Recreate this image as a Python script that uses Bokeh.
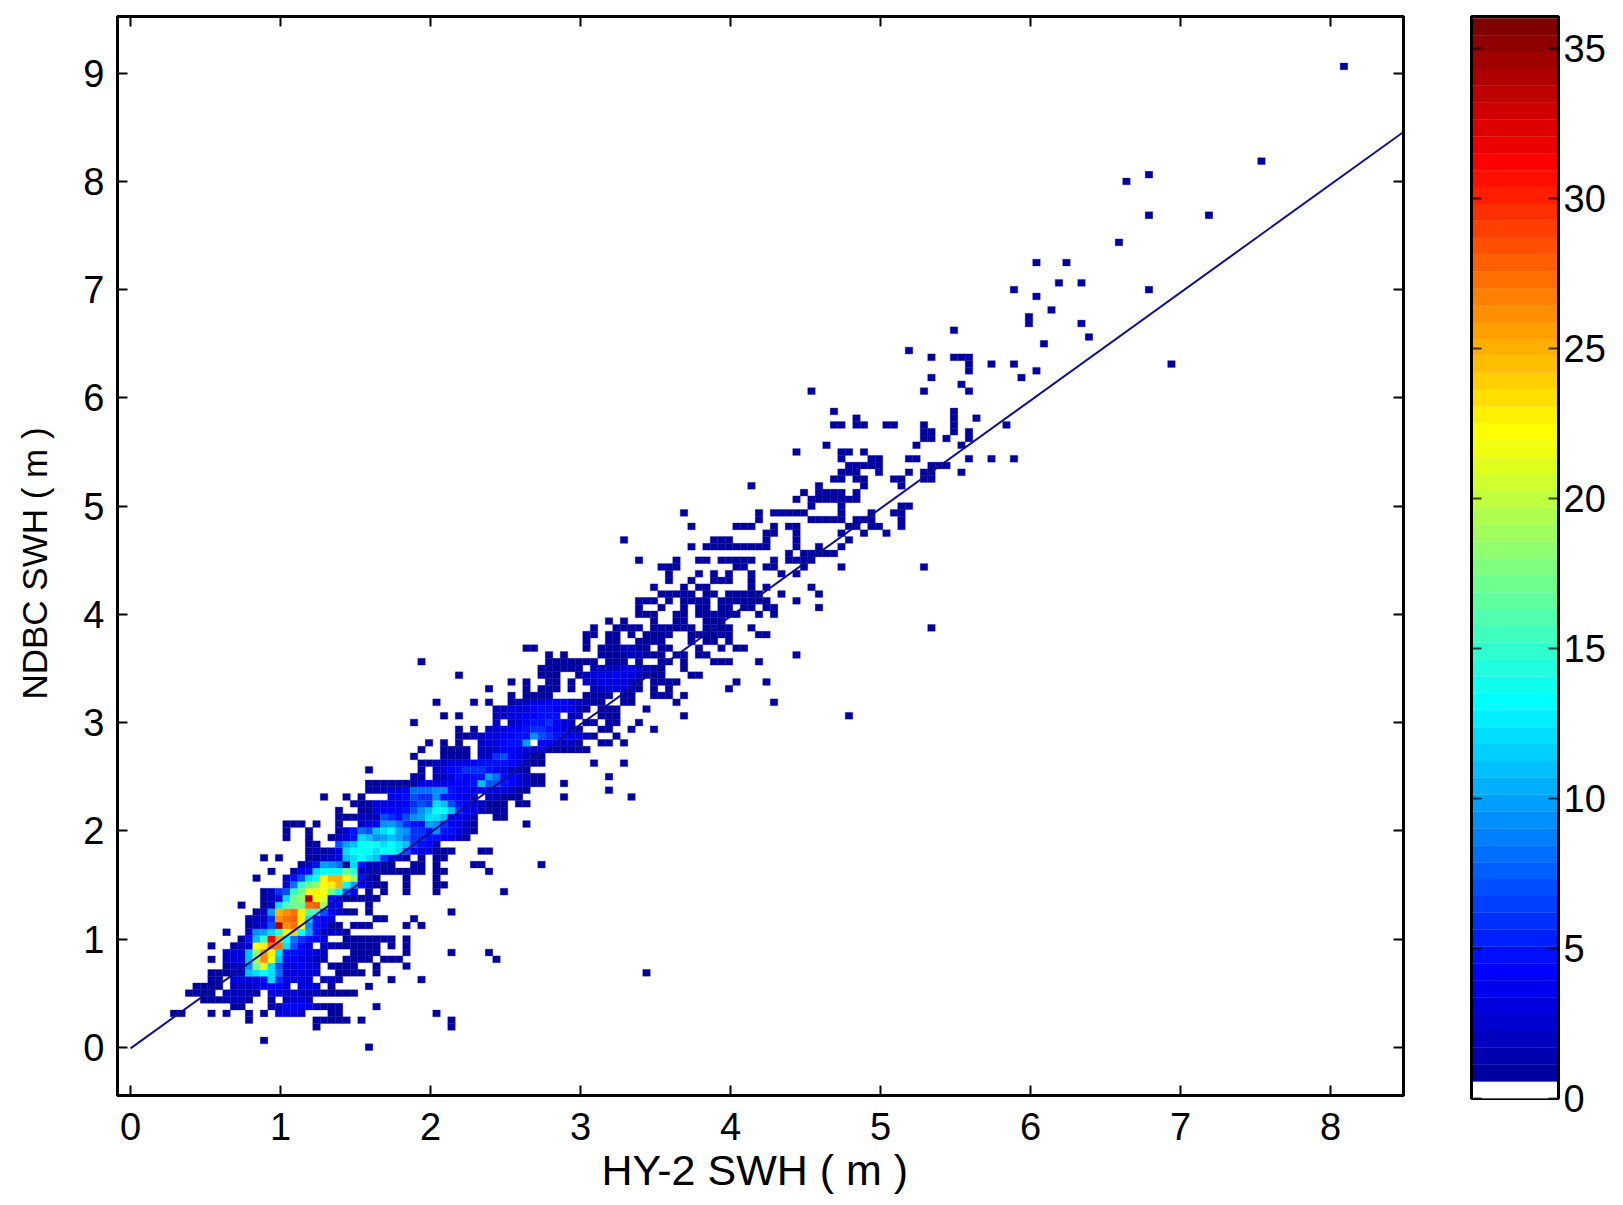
import numpy as np
from bokeh.core.properties import value
from bokeh.embed import file_html
from bokeh.layouts import row
from bokeh.models import ColumnDataSource, FixedTicker, LinearAxis, LinearColorMapper, Range1d, Title
from bokeh.plotting import figure
from bokeh.resources import INLINE
from bokeh.transform import transform

x_ticks = [0, 1, 2, 3, 4, 5, 6, 7, 8]
y_ticks = [0, 1, 2, 3, 4, 5, 6, 7, 8, 9]
bar_ticks = [0, 5, 10, 15, 20, 25, 30, 35]

# histogram cells: (y bin, first x bin, counts in base 36, "." = empty)
cells_low = [
    (0, 32, "1"), (1, 18, "1"), (3, 25, "1"), (3, 43, "1"),
    (4, 16, "1"), (4, 25, "11111"), (4, 31, "1"), (4, 43, "1"),
    (5, 6, "11"), (5, 11, "1"), (5, 13, "1"), (5, 16, "1"), (5, 18, "1"), (5, 20, "3332"), (5, 27, "11"), (5, 41, "1"),
    (6, 14, "11"), (6, 19, "1244432111"), (6, 33, "1"),
    (7, 10, "1112221"), (7, 19, "1.2332"),
    (8, 8, "1111"), (8, 13, "22221"), (8, 19, "332322211111"),
    (9, 9, "1111"), (9, 14, "22233443"), (9, 23, "333"), (9, 27, "1"), (9, 32, "1"),
    (10, 11, "11"), (10, 14, "3333"), (10, 18, "5c6"), (10, 21, "3333"), (10, 26, "222"), (10, 35, "1"), (10, 39, "1"),
    (11, 11, "11122"), (11, 16, "bcdc8"), (11, 21, "33333"), (11, 28, "1111"), (11, 33, "1"), (11, 69, "1"),
    (12, 13, "122"), (12, 16, "9hlc7"), (12, 21, "33433"), (12, 27, "11"), (12, 29, "11"), (12, 33, "1"), (12, 37, "1"),
    (13, 11, "1"), (13, 13, "233"), (13, 16, "bjqmb"), (13, 21, "443322"), (13, 29, "11"), (13, 31, "11"), (13, 34, "111"), (13, 49, "1"),
    (14, 13, "233"), (14, 16, "biqnc"), (14, 21, "554332"), (14, 30, "111"), (14, 33, "1"), (14, 37, "1"), (14, 43, "1"), (14, 48, "1"),
    (15, 11, "1"), (15, 14, "123"), (15, 17, "mnrr"), (15, 21, "c7"), (15, 23, "43"), (15, 26, "22"), (15, 28, "111"), (15, 31, "111"), (15, 35, "1"), (15, 37, "1"),
    (16, 15, "15"), (16, 17, "bfvp"), (16, 21, "d8"), (16, 23, "6543"), (16, 29, "11"), (16, 31, "11111"), (16, 37, "1"),
    (17, 13, "1"), (17, 16, "29a"), (17, 19, "cfmoe"), (17, 24, "a5"), (17, 26, "2221"),
    (18, 16, "1237yqrm954"), (18, 27, "11"), (18, 30, "111"), (18, 37, "1"), (18, 39, "1"),
    (19, 16, "1226qrsnc543"), (19, 33, "11"), (19, 38, "1"),
    (20, 17, "12apqrngf7"), (20, 27, "4211"), (20, 32, "1"), (20, 43, "1"),
    (21, 15, "1"), (21, 18, "12cghhrsj43"), (21, 32, "1"),
    (22, 18, "123chiyml53"), (22, 29, "11111"),
    (23, 18, "1267fhmnmhd74"), (23, 32, "1"), (23, 34, "1"), (23, 37, "1"), (23, 41, "1"), (23, 50, "1"),
    (24, 21, "38fhimnpda4211"), (24, 37, "1"), (24, 41, "1"), (24, 42, "1"),
    (25, 17, "1"), (25, 21, "257cdmppmj521"), (25, 37, "1"), (25, 41, "1"),
    (26, 19, "1"), (26, 22, "145cdedhf222111111"), (26, 41, "11"), (26, 48, "1"),
    (27, 23, "125a98"), (27, 29, "1c52221"), (27, 38, "11"), (27, 41, "1"), (27, 46, "11"), (27, 55, "1"),
    (28, 18, "1"), (28, 20, "1"), (28, 24, "11223bcdcb643"), (28, 37, "1"), (28, 39, "1"), (28, 41, "11"),
    (29, 24, "12123cdedcdec7433"), (29, 41, "111"), (29, 47, "11"),
    (30, 24, "11"), (30, 28, "7abdedcdcb654"), (30, 41, "2"),
    (31, 21, "1"), (31, 24, "1"), (31, 27, "1235cb9aba8665"), (31, 41, "54321"),
    (32, 21, "1"), (32, 24, "1"), (32, 28, "13587bcda9665"), (32, 41, "955321"),
    (33, 21, "111"), (33, 25, "1"), (33, 28, "1"), (33, 31, "2349a8655a964321"), (33, 53, "1"),
    (34, 28, "111"), (34, 31, "222765"), (34, 37, "79acc"), (34, 42, "b4432"), (34, 49, "11"),
    (35, 28, "1"), (35, 31, "113444579bdeb6432111"),
    (36, 30, "11133334676cb75432111"), (36, 52, "11"),
    (37, 26, "1"), (37, 29, "1"), (37, 31, "1"), (37, 35, "345766955432"), (37, 48, "22111"), (37, 58, "1"), (37, 67, "1"),
    (38, 32, "1123348889954433433211"), (38, 64, "1"),
    (39, 32, "1111111"), (39, 39, "33334445b77543211"), (39, 58, "1"),
    (40, 38, "11"), (40, 41, "2235455a8543211"), (40, 64, "1"),
    (41, 32, "1"), (41, 39, "1"), (41, 41, "2345666543221"),
    (42, 39, "11223334555543211"), (42, 62, "1"), (42, 66, "1"),
    (43, 38, "1"), (43, 42, "1111"), (43, 47, "226743211"),
    (44, 39, "1"), (44, 42, "1111"), (44, 47, "223443323211111"),
    (45, 40, "1"), (45, 42, "1"), (45, 44, "1"), (45, 47, "233455a"), (45, 55, "443221"), (45, 63, "11"), (45, 66, "1"),
    (46, 44, "1122334455976544321"), (46, 65, "1"),
    (47, 44, "1"), (47, 46, "1"), (47, 48, "2334456654321"), (47, 63, "11"), (47, 67, "1"), (47, 70, "1"),
    (48, 38, "1"), (48, 49, "2.234556432"), (48, 61, "11.11"), (48, 68, "1"),
    (49, 42, "1"), (49, 44, "1"), (49, 49, "223344555"), (49, 59, "22"), (49, 63, "111"), (49, 74, "1"), (49, 96, "1"),
    (50, 49, "2233345544321"), (50, 63, "111"), (50, 69, "1"),
]

cells_mid = [
    (51, 41, "1"), (51, 46, "1"), (51, 48, "1"), (51, 51, "1223344432211"), (51, 66, "11"), (51, 73, "1"), (51, 86, "1"),
    (52, 51, "1"), (52, 53, "111"), (52, 56, "1"), (52, 61, "1111"), (52, 66, "11"), (52, 70, "1"), (52, 71, "11"), (52, 74, "1"),
    (53, 48, "1"), (53, 53, "1"), (53, 55, "111"), (53, 59, "1"), (53, 62, "2233321"), (53, 70, "1"), (53, 72, "1"), (53, 80, "1"),
    (54, 51, "1"), (54, 53, "1"), (54, 56, "11"), (54, 59, "1"), (54, 61, "22333321"), (54, 70, "1111"), (54, 81, "1"), (54, 85, "1"),
    (55, 44, "1"), (55, 55, "111"), (55, 60, "123334332"), (55, 69, "111"), (55, 75, "11"),
    (56, 55, "1111"), (56, 59, "11"), (56, 62, "222233221"), (56, 71, "1"), (56, 74, "1"),
    (57, 39, "1"), (57, 56, "1111111"), (57, 64, "111"), (57, 68, "1"), (57, 71, "11"), (57, 74, "1"), (57, 78, "111"), (57, 84, "1"),
    (58, 56, "1"), (58, 58, "1"), (58, 63, "11112211"), (58, 71, "1"), (58, 73, "11"), (58, 76, "11"), (58, 89, "1"),
    (59, 53, "11"), (59, 61, "1"), (59, 63, "1112211"), (59, 71, "11"), (59, 76, "1"), (59, 79, "1"), (59, 81, "11"),
    (60, 61, "1"), (60, 64, "11"), (60, 68, "111"), (60, 71, "1"), (60, 75, "1"), (60, 77, "11"), (60, 80, "1"),
    (61, 61, "11"), (61, 64, "11"), (61, 67, "1"), (61, 69, "1111"), (61, 75, "111111"), (61, 84, "11"),
    (62, 62, "1"), (62, 65, "1111"), (62, 70, "111111"), (62, 77, "1111"), (62, 83, "1"), (62, 107, "1"),
    (63, 64, "1"), (63, 66, "1"), (63, 70, "1"), (63, 73, "11"), (63, 77, "111"),
    (64, 68, "111"), (64, 73, "11"), (64, 76, "111"), (64, 79, "111"), (64, 84, "1"), (64, 86, "1"),
    (65, 68, "1"), (65, 71, "1"), (65, 74, "1"), (65, 76, "11"), (65, 79, "11"), (65, 82, "11"), (65, 85, "11"), (65, 92, "1"),
    (66, 68, "111"), (66, 72, "1"), (66, 74, "1111"), (66, 79, "111"), (66, 82, "111"), (66, 85, "1"), (66, 89, "1"),
    (67, 71, "11111"), (67, 77, "11"), (67, 80, "11111"), (67, 87, "1"), (67, 92, "1"),
    (68, 70, "1"), (68, 74, "1"), (68, 76, "11"), (68, 83, "1"), (68, 85, "1"), (68, 91, "1"),
    (69, 72, "1"), (69, 75, "1"), (69, 78, "111"), (69, 83, "1"),
    (70, 72, "1"), (70, 76, "1"), (70, 78, "1"), (70, 80, "1"), (70, 83, "1"), (70, 87, "1"), (70, 89, "1"),
    (71, 71, "111"), (71, 81, "11"), (71, 85, "11"), (71, 90, "1"), (71, 95, "1"), (71, 106, "1"),
    (72, 68, "1"), (72, 73, "1"), (72, 76, "11"), (72, 79, "11111"), (72, 86, "1"), (72, 88, "1111"),
    (73, 88, "1"), (73, 90, "11111"),
    (74, 75, "1"), (74, 77, "11111"), (74, 82, "111"), (74, 85, "1"), (74, 89, "1"), (74, 92, "1"), (74, 95, "1"),
    (75, 66, "1"), (75, 78, "111"), (75, 85, "1"), (75, 89, "1"), (75, 96, "1"),
    (76, 85, "11"), (76, 89, "1"), (76, 95, "1"), (76, 98, "1"), (76, 101, "1"),
    (77, 75, "1"), (77, 81, "111"), (77, 86, "1"), (77, 88, "11"), (77, 96, "11"), (77, 99, "11"), (77, 103, "1"),
    (78, 84, "1"), (78, 91, "11111"), (78, 97, "111"), (78, 103, "1"),
    (79, 74, "1"), (79, 84, "1"), (79, 86, "11111"), (79, 95, "1"), (79, 99, "1"), (79, 102, "11"),
]

cells_high = [
    (80, 91, "1"), (80, 95, "1"), (80, 103, "11"),
    (81, 89, "1"), (81, 91, "1111111"),
    (82, 90, "1"), (82, 92, "1111"), (82, 97, "1"),
    (83, 83, "1"), (83, 92, "1"), (83, 98, "1"), (83, 103, "1"),
    (84, 94, "11"), (84, 97, "11"), (84, 102, "11"), (84, 106, "11"),
    (85, 95, "111"), (85, 100, "1"), (85, 104, "1"), (85, 106, "11"), (85, 111, "1"),
    (86, 96, "1111"), (86, 100, "1"), (86, 107, "111"),
    (87, 95, "1"), (87, 99, "11"), (87, 104, "11"), (87, 112, "1"), (87, 115, "1"), (87, 118, "1"),
    (88, 89, "1"), (88, 95, "11"), (88, 98, "1"),
    (89, 93, "1"), (89, 105, "1"), (89, 111, "1"),
    (90, 106, "11"), (90, 109, "1"), (90, 112, "1"),
    (91, 106, "11"), (91, 110, "1"), (91, 112, "1"),
    (92, 94, "11"), (92, 97, "11"), (92, 101, "11"), (92, 106, "1"), (92, 110, "1"), (92, 117, "1"),
    (93, 97, "1"), (93, 110, "1"), (93, 113, "1"),
    (94, 94, "1"), (94, 110, "1"),
    (97, 91, "1"), (97, 106, "1"), (97, 112, "1"),
    (98, 111, "1"),
    (99, 107, "1"), (99, 119, "1"),
    (100, 112, "1"), (100, 121, "1"),
    (101, 112, "1"), (101, 115, "1"), (101, 118, "1"), (101, 139, "1"),
    (102, 107, "1"), (102, 110, "111"),
    (103, 104, "1"),
    (104, 122, "1"), (105, 128, "1"), (106, 110, "1"),
    (107, 120, "1"), (107, 127, "1"), (108, 120, "1"), (109, 123, "1"), (111, 121, "1"),
    (112, 118, "1"), (112, 136, "1"), (113, 124, "1"), (113, 127, "1"),
    (116, 121, "1"), (116, 125, "1"), (119, 132, "1"), (123, 136, "1"), (123, 144, "1"),
    (128, 133, "1"), (129, 136, "1"), (131, 151, "1"), (145, 162, "1"),
]

fit_x = [0.0, 8.5]
fit_y = [-0.01, 8.47]

x_bin = 0.05
y_bin = 0.0625
x_shift = -0.01
bar_max = 36.06


def jet_with_white(n):
    colors = ["#ffffff"]
    for k in range(1, n):
        t = (k + 1) / n
        r = np.clip(min(4 * t - 1.5, -4 * t + 4.5), 0, 1)
        g = np.clip(min(4 * t - 0.5, -4 * t + 3.5), 0, 1)
        b = np.clip(min(4 * t + 0.5, -4 * t + 2.5), 0, 1)
        colors.append("#%02x%02x%02x" % (int(r * 255), int(g * 255), int(b * 255)))
    return colors


def cells_to_source(*tables):
    xs, ys, counts = [], [], []
    for table in tables:
        for y_index, first, text in table:
            for offset, ch in enumerate(text):
                if ch == ".":
                    continue
                xs.append((first + offset) * x_bin + x_shift)
                ys.append(y_index * y_bin)
                counts.append(int(ch, 36))
    return ColumnDataSource(dict(x=xs, y=ys, count=counts))


def style_axis(axis, ticks, size="38px"):
    axis.ticker = FixedTicker(ticks=ticks)
    axis.major_tick_in = 10
    axis.major_tick_out = 0
    axis.minor_tick_line_color = None
    axis.major_tick_line_width = 2
    axis.major_tick_line_color = "black"
    axis.axis_line_width = 3
    axis.axis_line_color = "black"
    axis.major_label_text_font = "Liberation Sans"
    axis.major_label_text_font_size = size
    axis.major_label_text_color = "black"


def mirror_axis(ticks):
    axis = LinearAxis()
    style_axis(axis, ticks)
    axis.major_label_overrides = {t: "" for t in ticks}
    axis.major_label_standoff = 0
    return axis


palette = jet_with_white(64)
mapper = LinearColorMapper(palette=palette, low=0, high=36)

# narrow strip that only holds the rotated y label, so it can sit further out than an axis label does
label_strip = figure(frame_width=60, frame_height=1079, width=60, height=1193,
                     x_range=Range1d(0, 60), y_range=Range1d(1095, 16),
                     output_backend="svg", toolbar_location=None, min_border_left=0, min_border_right=0,
                     min_border_top=16, min_border_bottom=98, outline_line_color=None)
label_strip.axis.visible = False
label_strip.grid.visible = False
label_strip.text(x=[34], y=[563], text=["NDBC SWH ( m )"], angle=np.pi / 2, text_align="center",
                 text_baseline="middle", text_font=value("Liberation Sans"), text_font_size="35px", text_color="black")

p = figure(frame_width=1286, frame_height=1079, width=1400, height=1193,
           x_range=Range1d(-0.087, 8.487), y_range=Range1d(-0.446, 9.524),
           output_backend="svg", toolbar_location=None, min_border_left=57,
           min_border_right=57, min_border_top=16, min_border_bottom=98)
p.grid.visible = False
p.outline_line_color = "black"
p.outline_line_width = 3

p.rect("x", "y", width=x_bin, height=y_bin, source=cells_to_source(cells_low, cells_mid, cells_high),
       fill_color=transform("count", mapper), line_color=transform("count", mapper), line_width=0.3)
p.line(fit_x, fit_y, line_color="#10108c", line_width=2)

style_axis(p.xaxis[0], x_ticks)
style_axis(p.yaxis[0], y_ticks)
p.xaxis[0].major_label_standoff = 17
p.yaxis[0].major_label_standoff = 13

p.add_layout(Title(text="HY-2 SWH ( m )", align="left", offset=484, standoff=3, text_font="Liberation Sans",
                   text_font_size="43px", text_font_style="normal", text_color="black"), "below")

p.add_layout(mirror_axis(x_ticks), "above")
p.add_layout(mirror_axis(y_ticks), "right")

# colour bar
bar_edges = np.linspace(0, 36, 65)
bar = figure(frame_width=87, frame_height=1082, width=155, height=1193,
             x_range=Range1d(0, 1), y_range=Range1d(0, bar_max), y_axis_location="right",
             output_backend="svg", toolbar_location=None, min_border_left=11,
             min_border_right=57, min_border_top=16, min_border_bottom=95)
bar.grid.visible = False
bar.xaxis.visible = False
bar.outline_line_color = "black"
bar.outline_line_width = 3
bar.quad(left=0, right=1, bottom=bar_edges[:-1], top=bar_edges[1:], fill_color=palette, line_color=palette, line_width=0.3)
style_axis(bar.yaxis[0], bar_ticks)
bar.yaxis[0].major_label_standoff = 5
bar.yaxis[0].major_tick_line_alpha = 0.7
bar_left = mirror_axis(bar_ticks)
bar_left.major_tick_line_alpha = 0.7
bar.add_layout(bar_left, "left")

layout = row(label_strip, p, bar, spacing=0)
open("out.html", "w").write(file_html(layout, INLINE))
